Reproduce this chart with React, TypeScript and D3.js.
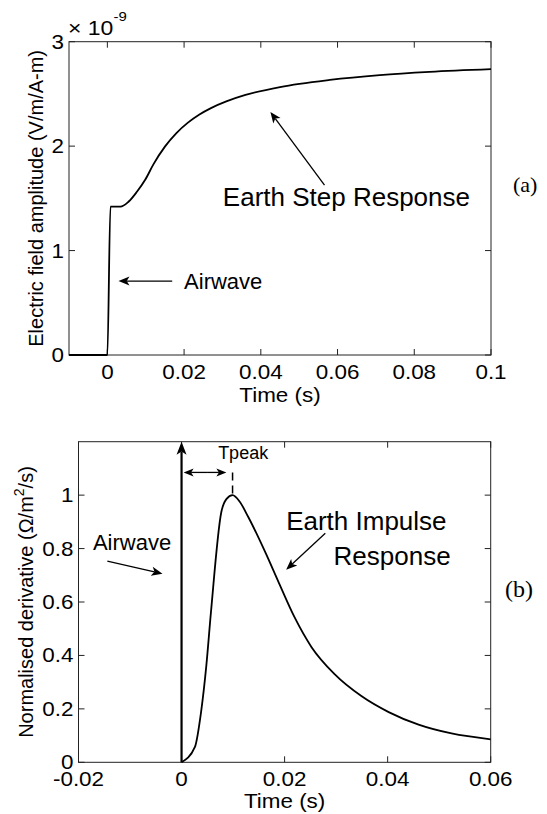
import React from 'react'
import * as d3 from 'd3'

// (a) step response, amplitude in units of 1e-9 V/m/A-m
const stepTime = [-0.01, 0, 0.0008, 0.0034, 0.0055, 0.0077, 0.0099, 0.012, 0.015, 0.018, 0.021, 0.024, 0.027, 0.031, 0.036, 0.045, 0.058, 0.071, 0.084, 0.1]
const stepValue = [0, 0, 1.42, 1.42, 1.467, 1.563, 1.68, 1.825, 1.995, 2.125, 2.225, 2.303, 2.364, 2.428, 2.49, 2.566, 2.634, 2.68, 2.711, 2.737]
const stepXTicks = [0, 0.02, 0.04, 0.06, 0.08, 0.1]
const stepYTicks = [0, 1, 2, 3]

// (b) normalised impulse response
const impTime = [0, 0.0026, 0.0038, 0.0048, 0.0057, 0.0077, 0.0087, 0.0099, 0.0113, 0.0129, 0.0164, 0.0187, 0.0219, 0.0252, 0.0297, 0.0349, 0.0402, 0.046, 0.0524, 0.06]
const impValue = [0, 0.058, 0.19, 0.36, 0.56, 0.935, 0.985, 1.0, 0.975, 0.92, 0.78, 0.68, 0.544, 0.432, 0.33, 0.248, 0.188, 0.141, 0.108, 0.086]
const impXTicks = [-0.02, 0, 0.02, 0.04, 0.06]
const impYTicks = [0, 0.2, 0.4, 0.6, 0.8, 1]

const SANS = "'Liberation Sans', Arial, Helvetica, sans-serif"
const SERIF = "'Liberation Serif', 'Times New Roman', serif"
const TICK = 6
const SX = 1.15 // the source figure's lettering is a little wide

const fmt = (v: number) => String(+v.toFixed(3))

// text drawn slightly stretched horizontally around its anchor
function Wide({ x, y, anchor = 'start', size = 19.5, dy, children }: any) {
  return (
    <g transform={`translate(${x},${y}) scale(${SX},1)`}>
      <text x={0} y={0} dy={dy} textAnchor={anchor} fontSize={size}>{children}</text>
    </g>
  )
}

function Arrow({ x1, y1, x2, y2, w = 1.3, len = 11, half = 4.5 }: any) {
  const a = Math.atan2(y2 - y1, x2 - x1)
  const ux = Math.cos(a), uy = Math.sin(a)
  const bx = x2 - ux * len, by = y2 - uy * len
  const nx = x2 - ux * len * 0.75, ny = y2 - uy * len * 0.75
  const head = `M${x2},${y2}L${bx - uy * half},${by + ux * half}L${nx},${ny}L${bx + uy * half},${by - ux * half}Z`
  return (
    <g>
      <line x1={x1} y1={y1} x2={nx} y2={ny} stroke="#000" strokeWidth={w} />
      <path d={head} fill="#000" />
    </g>
  )
}

function Frame({ x, y, xTicks, yTicks, xLabelBase, children }: any) {
  const [x0, x1] = x.range()
  const [y0, y1] = y.range()
  return (
    <g fontFamily={SANS} fill="#000">
      <rect x={x0} y={y1} width={x1 - x0} height={y0 - y1} fill="none" stroke="#222" strokeWidth={1} />
      {xTicks.map((t: number) => (
        <g key={'x' + t}>
          <line x1={x(t)} x2={x(t)} y1={y0} y2={y0 - TICK} stroke="#222" />
          <line x1={x(t)} x2={x(t)} y1={y1} y2={y1 + TICK} stroke="#222" />
          <Wide x={x(t)} y={y0 + 23.5} anchor="middle">{fmt(t)}</Wide>
        </g>
      ))}
      {yTicks.map((t: number) => (
        <g key={'y' + t}>
          <line x1={x0} x2={x0 + TICK} y1={y(t)} y2={y(t)} stroke="#222" />
          <line x1={x1} x2={x1 - TICK} y1={y(t)} y2={y(t)} stroke="#222" />
          <Wide x={x0 - 5} y={y(t)} dy="0.36em" anchor="end">{fmt(t)}</Wide>
        </g>
      ))}
      <Wide x={(x0 + x1) / 2} y={y0 + xLabelBase} anchor="middle">Time (s)</Wide>
      {children}
    </g>
  )
}

export default function App() {
  // panel (a)
  const xA = d3.scaleLinear().domain([-0.01, 0.1]).range([69, 491])
  const yA = d3.scaleLinear().domain([0, 3]).range([355, 41.7])
  const lineA = d3.line<number>().x((d, i) => xA(stepTime[i])).y((d) => yA(d)).curve(d3.curveMonotoneX)

  // panel (b)
  const xB = d3.scaleLinear().domain([-0.02, 0.06]).range([78.5, 490.7])
  const yB = d3.scaleLinear().domain([0, 1.2]).range([762.3, 441.7])
  const lineB = d3.line<number>().x((d, i) => xB(impTime[i])).y((d) => yB(d)).curve(d3.curveMonotoneX)

  const peakIdx = impValue.indexOf(d3.max(impValue) as number)
  const tPeak = impTime[peakIdx]

  return (
    <svg width={547} height={814} style={{ position: 'absolute', left: 0, top: 0, background: '#fff' }}>
      <rect width={547} height={814} fill="#fff" />

      <Frame x={xA} y={yA} xTicks={stepXTicks} yTicks={stepYTicks} xLabelBase={47}>
        <text transform={`translate(43,${(355 + 41.7) / 2}) rotate(-90)`} textAnchor="middle" fontSize={20}>
          Electric field amplitude (V/m/A-m)
        </text>
        <g transform={`translate(68,35) scale(${SX},1)`}>
          <text x={0} y={0} fontSize={20}>
            × 10<tspan dy={-14} fontSize={13}>-9</tspan>
          </text>
        </g>
        <path d={lineA(stepValue) as string} fill="none" stroke="#000" strokeWidth={1.8} />
        <Arrow x1={xA(0.0169)} y1={yA(0.708)} x2={xA(0.0029)} y2={yA(0.708)} />
        <text x={xA(0.02)} y={yA(0.632)} fontSize={22}>Airwave</text>
        <Arrow x1={xA(0.0566)} y1={yA(1.627)} x2={xA(0.0425)} y2={yA(2.328)} />
        <text x={xA(0.0301)} y={yA(1.426)} fontSize={26}>Earth Step Response</text>
      </Frame>
      <text x={513} y={192} fontFamily={SERIF} fontSize={22}>(a)</text>

      <Frame x={xB} y={yB} xTicks={impXTicks} yTicks={impYTicks} xLabelBase={46}>
        <text transform={`translate(33,${(762.3 + 441.7) / 2}) rotate(-90)`} textAnchor="middle" fontSize={20}>
          Normalised derivative (Ω/m<tspan dy={-9} fontSize={14}>2</tspan><tspan dy={9}>/s)</tspan>
        </text>
        <path d={lineB(impValue) as string} fill="none" stroke="#000" strokeWidth={1.8} />
        <Arrow x1={xB(0)} y1={yB(0)} x2={xB(0)} y2={yB(1.2)} w={2.2} len={13} half={5} />
        <Arrow x1={xB(-0.0144)} y1={yB(0.753)} x2={xB(-0.0037)} y2={yB(0.706)} />
        <text x={xB(-0.0172)} y={yB(0.793)} fontSize={22}>Airwave</text>
        <Arrow x1={xB(tPeak / 2)} y1={yB(1.085)} x2={xB(0.0004)} y2={yB(1.085)} len={10} half={4} />
        <Arrow x1={xB(tPeak / 2)} y1={yB(1.085)} x2={xB(tPeak - 0.0012)} y2={yB(1.085)} len={10} half={4} />
        <line x1={xB(tPeak)} x2={xB(tPeak)} y1={yB(1.085)} y2={yB(1)} stroke="#000" strokeWidth={1.5} strokeDasharray="8,5" />
        <text x={xB(0.0071)} y={yB(1.135)} fontSize={18}>Tpeak</text>
        <Arrow x1={xB(0.0279)} y1={yB(0.857)} x2={xB(0.0203)} y2={yB(0.721)} />
        <text x={xB(0.0203)} y={yB(0.871)} fontSize={26}>Earth Impulse</text>
        <text x={xB(0.0295)} y={yB(0.737)} fontSize={26}>Response</text>
      </Frame>
      <text x={505} y={597} fontFamily={SERIF} fontSize={24}>(b)</text>
    </svg>
  )
}
